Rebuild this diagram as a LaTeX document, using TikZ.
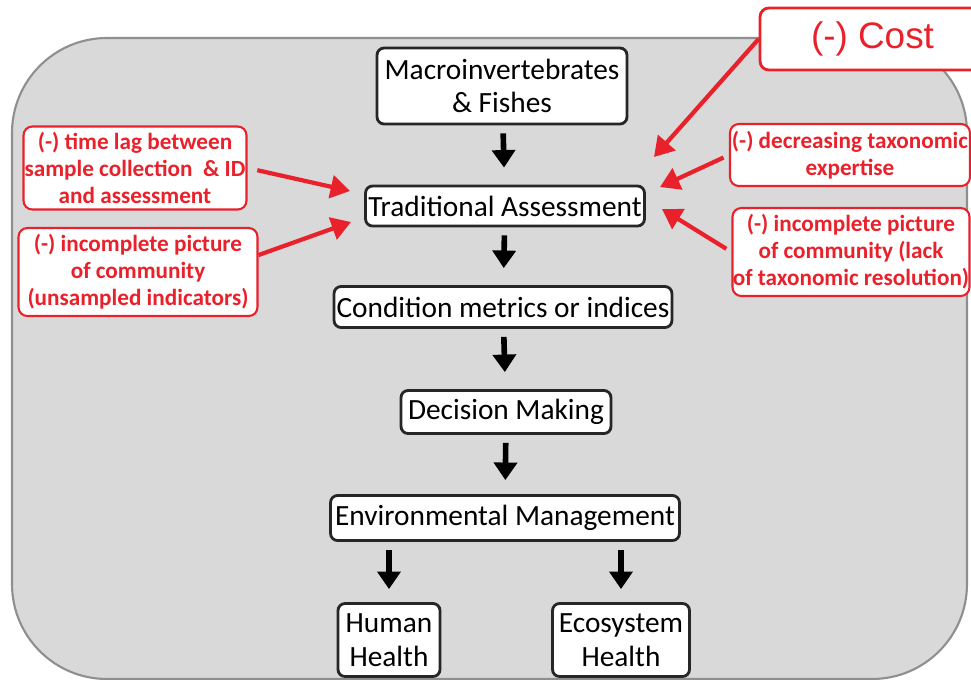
\documentclass[tikz,border=0pt]{standalone}
\usepackage{fontspec}
\setmainfont{Carlito}
\newfontfamily\costfont{Liberation Sans}
\usetikzlibrary{arrows.meta}
\definecolor{panelgray}{HTML}{D9D9D9}
\definecolor{paneledge}{HTML}{8F8F8F}
\definecolor{warnred}{HTML}{E8212B}
\tikzset{
  stage/.style={draw=black!85, line width=1.6pt, fill=white, rounded corners=4pt,
    align=center, inner sep=0pt, font=\fontsize{16.7}{19}\selectfont},
  flaw/.style={draw=warnred, line width=1.2pt, fill=white, rounded corners=5pt,
    align=center, inner sep=0pt, text=warnred, font=\bfseries\fontsize{13.2}{15.4}\selectfont},
  flow/.style={-{Triangle[width=13pt,length=10pt]}, line width=3.2pt},
  hit/.style={-{Triangle[width=13pt,length=11pt]}, line width=2.4pt, draw=warnred},
}
\begin{document}
\begin{tikzpicture}[x=0.02cm,y=-0.02cm]
\useasboundingbox (0,0) rectangle (971,680);
\clip (0,0) rectangle (971,680);
\filldraw[fill=panelgray, draw=paneledge, line width=1.2pt, rounded corners=1.9cm] (12,38) rectangle (967,679);

\node[stage, minimum width=5cm, minimum height=1.52cm](macro) at (502,86) {Macroinvertebrates\\ \& Fishes};
\node[stage, minimum width=5.58cm, minimum height=0.8cm](trad) at (505,206) {Traditional Assessment};
\node[stage, minimum width=6.76cm, minimum height=0.82cm](cond) at (503,307) {Condition metrics or indices};
\node[stage, minimum width=4.2cm, minimum height=0.86cm](dec) at (506,412) {Decision Making};
\node[stage, minimum width=6.98cm, minimum height=0.9cm](env) at (505,518) {Environmental Management};
\node[stage, minimum width=2.04cm, minimum height=1.46cm](human) at (389,640) {Human\\ Health};
\node[stage, minimum width=2.74cm, minimum height=1.46cm](eco) at (621,640) {Ecosystem\\ Health};

\draw[flow, shorten <=0.16cm, shorten >=0.34cm] (macro) -- (trad);
\draw[flow, shorten <=0.16cm, shorten >=0.34cm] (trad) -- (cond);
\draw[flow, shorten <=0.16cm, shorten >=0.34cm] (cond) -- (dec);
\draw[flow, shorten <=0.16cm, shorten >=0.28cm] (dec) -- (env);
\draw[flow, shorten <=0.16cm, shorten >=0.26cm] (env.south -| human) -- (human);
\draw[flow, shorten <=0.16cm, shorten >=0.26cm] (env.south -| eco) -- (eco);

\node[flaw, minimum width=4.46cm, minimum height=1.66cm](lag) at (135,168) {(-) time lag between\\ sample collection~~\& ID\\ and assessment};
\node[flaw, minimum width=4.78cm, minimum height=1.76cm](unsampled) at (138,272) {(-) incomplete picture\\ of community\\ (unsampled indicators)};
\node[flaw, minimum width=4.8cm, minimum height=1.24cm](expert) at (850,155) {(-) decreasing taxonomic\\ expertise};
\node[flaw, minimum width=4.74cm, minimum height=1.76cm](resol) at (851,252) {(-) incomplete picture\\ of community (lack\\ of taxonomic resolution)};
\node[flaw, line width=1.6pt, minimum width=5.4cm, minimum height=1.24cm, font=\costfont\fontsize{21}{25}\selectfont](cost) at (895,39) {(-) Cost\hspace*{0.9cm}};

\coordinate (lagtip) at (350,191);
\coordinate (unstip) at (351,222);
\coordinate (exptip) at (660,187);
\coordinate (restip) at (662,209);
\coordinate (costtip) at (654,157);

\draw[hit, shorten <=0.2cm] (lag.east) -- (lagtip);
\draw[hit] (unsampled.8) -- (unstip);
\draw[hit, shorten <=0.12cm] (expert.west) -- (exptip);
\draw[hit, shorten <=0.12cm] (resol.west) -- (restip);
\draw[hit] (cost.west) -- (costtip);
\end{tikzpicture}
\end{document}
